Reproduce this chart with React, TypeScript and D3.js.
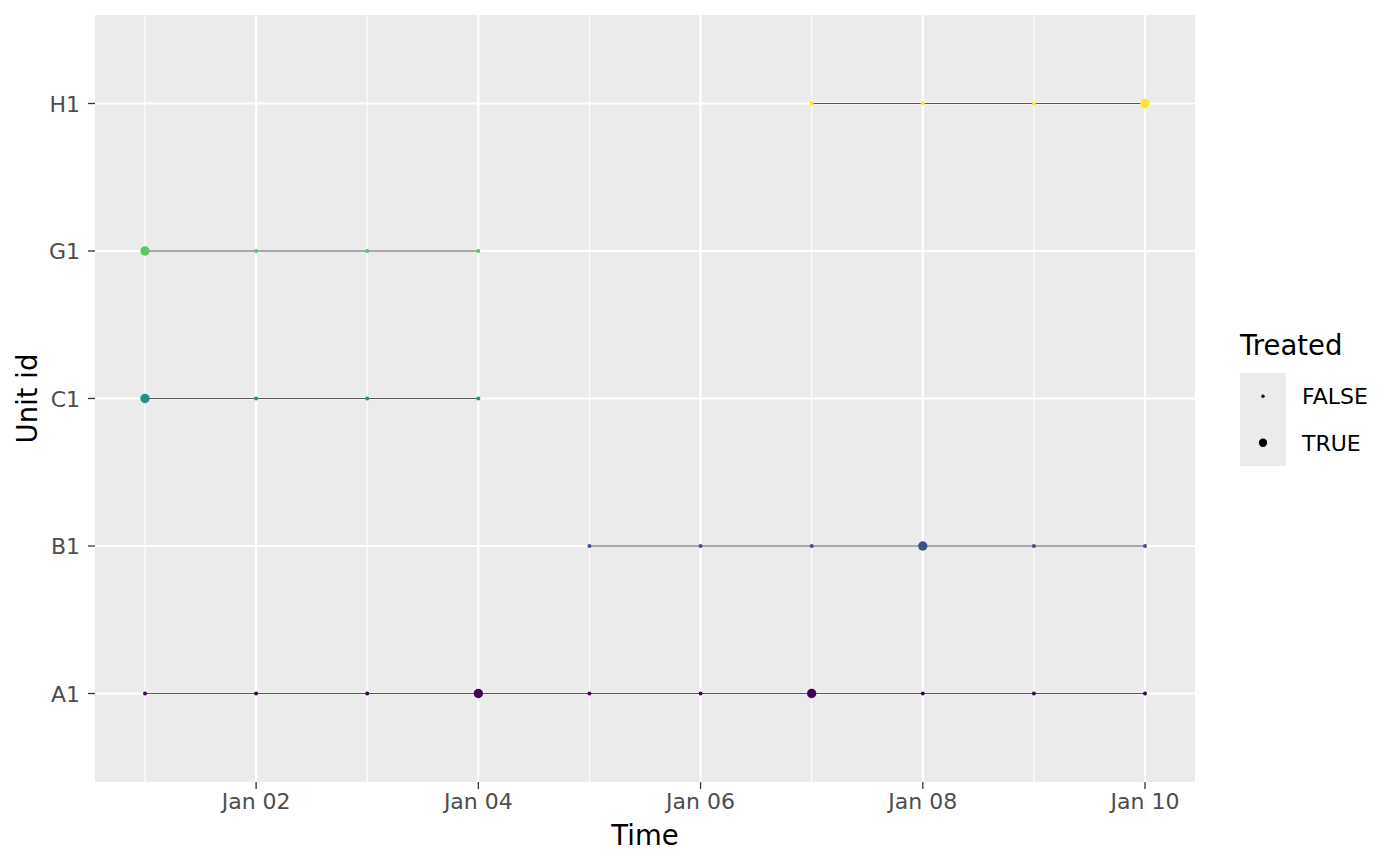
import React from "react";
import * as d3 from "d3";

const unitIds = ["A1", "B1", "C1", "G1", "H1"];
const unitColors = ["#440154", "#3B528B", "#21908C", "#5DC863", "#FDE725"];
const obsDays: number[][] = [
  [1, 2, 3, 4, 5, 6, 7, 8, 9, 10],
  [5, 6, 7, 8, 9, 10],
  [1, 2, 3, 4],
  [1, 2, 3, 4],
  [7, 8, 9, 10],
];
const treatedDays: number[][] = [[4, 7], [8], [1], [1], [10]];
const majorTickDays = [2, 4, 6, 8, 10];
const minorTickDays = [1, 3, 5, 7, 9];
const legendLabels = ["FALSE", "TRUE"];

const W = 1400;
const H = 866;
const P = { left: 95, right: 1195, top: 15, bottom: 782 };
const FONT = "DejaVu Sans, sans-serif";

const day = (d: number) => new Date(Date.UTC(2021, 0, d));

export default function App() {
  const x = d3
    .scaleUtc()
    .domain([new Date(day(1).getTime() - 0.45 * 864e5), new Date(day(10).getTime() + 0.45 * 864e5)])
    .range([P.left, P.right]);
  const y = d3
    .scalePoint<string>()
    .domain(unitIds)
    .range([P.bottom, P.top])
    .padding(0.6);
  const fmt = d3.utcFormat("%b %d");
  const line = d3
    .line<number>()
    .x((d) => x(day(d)))
    .y(() => 0);

  const rSmall = 2;
  const rBig = 4.7;

  return (
    <svg
      width={W}
      height={H}
      style={{ position: "absolute", left: 0, top: 0, background: "#fff" }}
      fontFamily={FONT}
    >
      <rect x={P.left} y={P.top} width={P.right - P.left} height={P.bottom - P.top} fill="#EBEBEB" />
      {minorTickDays.map((d) => (
        <line key={"mn" + d} x1={x(day(d))} x2={x(day(d))} y1={P.top} y2={P.bottom} stroke="#fff" strokeWidth={1.1} />
      ))}
      {majorTickDays.map((d) => (
        <line key={"mj" + d} x1={x(day(d))} x2={x(day(d))} y1={P.top} y2={P.bottom} stroke="#fff" strokeWidth={2.2} />
      ))}
      {unitIds.map((u) => (
        <line key={"gy" + u} x1={P.left} x2={P.right} y1={y(u)} y2={y(u)} stroke="#fff" strokeWidth={2.2} />
      ))}
      {unitIds.map((u, i) => (
        <path
          key={"ln" + u}
          d={line(obsDays[i]) || ""}
          transform={`translate(0,${y(u)})`}
          fill="none"
          stroke="#555"
          strokeWidth={1.1}
        />
      ))}
      {unitIds.map((u, i) =>
        obsDays[i].map((d) => (
          <circle
            key={"pt" + u + d}
            cx={x(day(d))}
            cy={y(u)}
            r={treatedDays[i].includes(d) ? rBig : rSmall}
            fill={unitColors[i]}
          />
        ))
      )}
      {/* x axis */}
      {majorTickDays.map((d) => (
        <g key={"xt" + d} transform={`translate(${x(day(d))},${P.bottom})`}>
          <line y1={0} y2={7} stroke="#333" strokeWidth={1.3} />
          <text y={27} textAnchor="middle" fontSize={22} fill="#4D4D4D">
            {fmt(day(d))}
          </text>
        </g>
      ))}
      {/* y axis */}
      {unitIds.map((u) => (
        <g key={"yt" + u} transform={`translate(${P.left},${y(u)})`}>
          <line x1={-7} x2={0} stroke="#333" strokeWidth={1.3} />
          <text x={-15} y={8} textAnchor="end" fontSize={22} fill="#4D4D4D">
            {u}
          </text>
        </g>
      ))}
      <text x={(P.left + P.right) / 2} y={845} textAnchor="middle" fontSize={27.5} fill="#000">
        Time
      </text>
      <text
        transform={`translate(37,${(P.top + P.bottom) / 2}) rotate(-90)`}
        textAnchor="middle"
        fontSize={27.5}
        fill="#000"
      >
        Unit id
      </text>
      {/* legend */}
      <text x={1240} y={355} fontSize={27.5} fill="#000">
        Treated
      </text>
      <rect x={1240} y={373} width={46} height={93} fill="#EBEBEB" />
      {legendLabels.map((lab, i) => (
        <g key={"lg" + lab} transform={`translate(1240,${373 + i * 46.5})`}>
          <circle cx={23} cy={23.25} r={i === 0 ? 1.7 : 4.2} fill="#000" />
          <text x={62} y={23.25 + 8} fontSize={22} fill="#000">
            {lab}
          </text>
        </g>
      ))}
    </svg>
  );
}
